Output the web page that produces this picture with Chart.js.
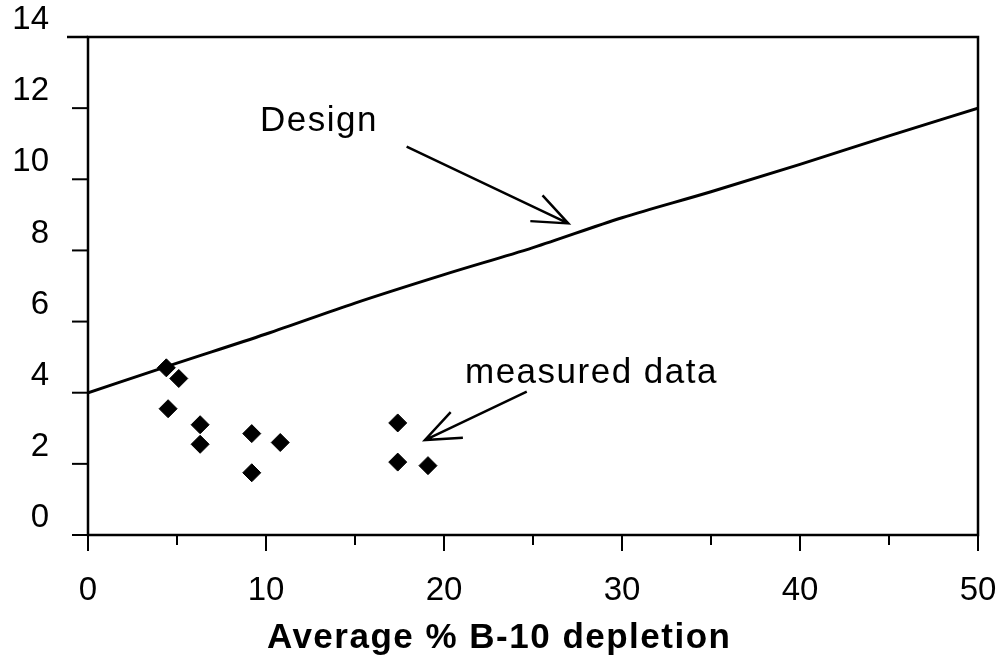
<!DOCTYPE html>
<html>
<head>
<meta charset="utf-8">
<script src="https://cdn.jsdelivr.net/npm/chart.js@4"></script>
<style>
  html, body { margin: 0; padding: 0; background: #fff; }
  #wrap { width: 999px; height: 658px; }
</style>
</head>
<body>
<div id="wrap"><canvas id="chart" width="999" height="658"></canvas></div>
<script>
// design curve
const designX = [0, 5, 10, 15, 20, 25, 30, 35, 40, 45, 50];
const designY = [4.0, 4.83, 5.65, 6.52, 7.32, 8.08, 8.92, 9.65, 10.42, 11.22, 12.0];

// measured points
const measuredX = [4.4, 5.1, 4.5, 6.3, 6.3, 9.2, 9.2, 10.8, 17.4, 17.4, 19.1];
const measuredY = [4.7, 4.4, 3.55, 3.1, 2.55, 2.85, 1.75, 2.6, 3.15, 2.05, 1.95];

const xTicks = [0, 10, 20, 30, 40, 50];
const yTicks = [0, 2, 4, 6, 8, 10, 12, 14];
const xTitle = 'Average % B-10 depletion';

// callouts, in data units
const notes = [
  { text: 'Design', x: 9.66, y: 11.37, from: [17.9, 10.92], to: [26.98, 8.76] },
  { text: 'measured data', x: 21.18, y: 4.27, from: [24.65, 4.03], to: [18.93, 2.67] }
];

const FONT = '"Liberation Sans", Arial, sans-serif';

const framePlugin = {
  id: 'frame',
  afterDraw(chart) {
    const { ctx, chartArea: a, scales: { x, y } } = chart;
    ctx.save();
    ctx.strokeStyle = '#000';
    ctx.lineWidth = 2.5;
    ctx.strokeRect(a.left, a.top, a.right - a.left, a.bottom - a.top);

    // y ticks: long at labelled values, short in between
    ctx.lineWidth = 2;
    y.ticks.forEach(t => {
      const py = y.getPixelForValue(t.value);
      const len = yTicks.includes(t.value) ? 16 : 8;
      ctx.beginPath();
      ctx.moveTo(a.left - len, py);
      ctx.lineTo(a.left, py);
      ctx.stroke();
    });
    // top line runs a bit further left
    ctx.lineWidth = 2.5;
    ctx.beginPath();
    ctx.moveTo(a.left - 21, a.top);
    ctx.lineTo(a.left, a.top);
    ctx.stroke();

    ctx.lineWidth = 2;
    x.ticks.forEach(t => {
      const px = x.getPixelForValue(t.value);
      const len = xTicks.includes(t.value) ? 16 : 10;
      ctx.beginPath();
      ctx.moveTo(px, a.bottom);
      ctx.lineTo(px, a.bottom + len);
      ctx.stroke();
    });

    ctx.fillStyle = '#000';
    ctx.textBaseline = 'alphabetic';

    // axis title, sits a little left of centre in the original
    ctx.font = 'bold 35px ' + FONT;
    ctx.textAlign = 'center';
    if ('letterSpacing' in ctx) ctx.letterSpacing = '1.5px';
    ctx.fillText(xTitle, a.left + (a.right - a.left) * 0.462, a.bottom + 113);

    // callouts
    ctx.font = '35px ' + FONT;
    ctx.textAlign = 'left';
    notes.forEach(n => {
      ctx.fillText(n.text, x.getPixelForValue(n.x), y.getPixelForValue(n.y));
      const x0 = x.getPixelForValue(n.from[0]), y0 = y.getPixelForValue(n.from[1]);
      const x1 = x.getPixelForValue(n.to[0]), y1 = y.getPixelForValue(n.to[1]);
      ctx.lineWidth = 2.5;
      ctx.beginPath();
      ctx.moveTo(x0, y0);
      ctx.lineTo(x1, y1);
      const ang = Math.atan2(y0 - y1, x0 - x1);
      const head = 38, spread = 22 * Math.PI / 180;
      ctx.moveTo(x1 + head * Math.cos(ang + spread), y1 + head * Math.sin(ang + spread));
      ctx.lineTo(x1, y1);
      ctx.lineTo(x1 + head * Math.cos(ang - spread), y1 + head * Math.sin(ang - spread));
      ctx.stroke();
    });
    ctx.restore();
  }
};

const bgPlugin = {
  id: 'bg',
  beforeDraw(chart) {
    const ctx = chart.ctx;
    ctx.save();
    ctx.fillStyle = '#fff';
    ctx.fillRect(0, 0, chart.width, chart.height);
    ctx.restore();
  }
};

function noOverflow(s) {
  s.paddingLeft = 0; s.paddingRight = 0; s.paddingTop = 0; s.paddingBottom = 0;
}

new Chart(document.getElementById('chart'), {
  type: 'scatter',
  data: {
    datasets: [
      {
        type: 'line',
        label: 'Design',
        data: designX.map((v, i) => ({ x: v, y: designY[i] })),
        borderColor: '#000',
        borderWidth: 3,
        pointRadius: 0,
        tension: 0.3,
        cubicInterpolationMode: 'monotone',
        fill: false
      },
      {
        label: 'measured data',
        data: measuredX.map((v, i) => ({ x: v, y: measuredY[i] })),
        pointStyle: 'rectRot',
        pointRadius: 9,
        backgroundColor: '#000',
        borderColor: '#000',
        borderWidth: 1
      }
    ]
  },
  options: {
    responsive: false,
    animation: false,
    layout: { padding: { left: 0, right: 21, top: 37, bottom: 0 } },
    plugins: { legend: { display: false }, tooltip: { enabled: false } },
    scales: {
      x: {
        type: 'linear',
        min: 0, max: 50,
        grid: { display: false },
        border: { display: false },
        afterFit(s) { s.height = 123; noOverflow(s); },
        ticks: {
          stepSize: 5,
          color: '#000',
          padding: 28,
          maxRotation: 0,
          font: { family: FONT, size: 33 },
          callback: v => xTicks.includes(v) ? String(v) : ''
        }
      },
      y: {
        type: 'linear',
        min: 0, max: 14,
        grid: { display: false },
        border: { display: false },
        afterFit(s) { s.width = 88; noOverflow(s); },
        ticks: {
          stepSize: 1,
          color: '#000',
          padding: 31,
          labelOffset: -17,
          font: { family: FONT, size: 33 },
          callback: v => yTicks.includes(v) ? String(v) : ''
        }
      }
    }
  },
  plugins: [bgPlugin, framePlugin]
});
</script>
</body>
</html>
